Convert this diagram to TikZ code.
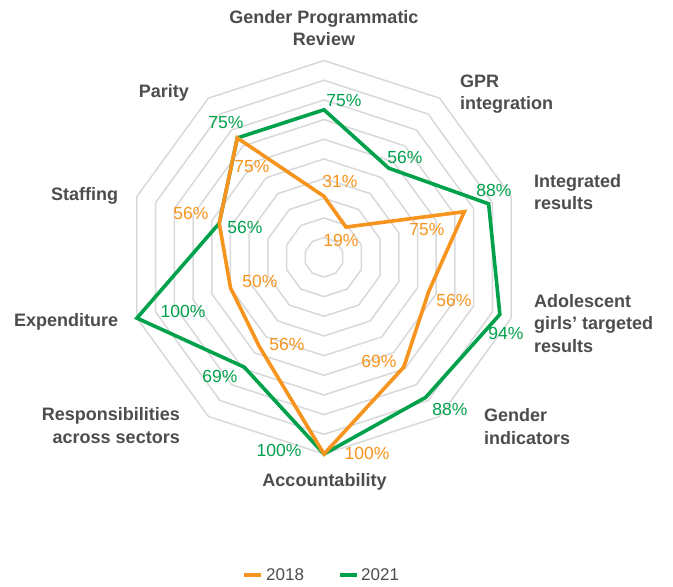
\documentclass[tikz,border=0pt]{standalone}
\usepackage{fontspec}
\setmainfont{Liberation Sans}
\definecolor{o18}{HTML}{F7941D}
\definecolor{g21}{HTML}{00A14B}
\definecolor{txtgray}{HTML}{4D4D4F}
\definecolor{gridc}{HTML}{D9D9D9}
\tikzset{
  gridline/.style={draw=gridc, line width=1.5pt},
  series18/.style={draw=o18, line width=3.6pt, line join=miter},
  series21/.style={draw=g21, line width=3.6pt, line join=miter},
  catlabel/.style={inner sep=0pt, text=txtgray, font=\bfseries\fontsize{18}{22.7}\selectfont},
  vallabel/.style={inner sep=0pt, font=\fontsize{17.5}{20}\selectfont},
  val18/.style={vallabel, text=o18},
  val21/.style={vallabel, text=g21},
  legtext/.style={inner sep=0pt, text=txtgray, font=\fontsize{17}{20}\selectfont},
}
\begin{document}
\begin{tikzpicture}[x=1pt,y=-1pt]
\useasboundingbox[fill=white] (0,0) rectangle (673,587);
\def\cx{324}\def\cy{257.3}\def\R{196.7}
% grid decagons
\foreach \i in {1,...,10}{
  \pgfmathsetmacro{\rr}{\R*\i/10}
  \draw[gridline] ({\cx+\rr*cos(90)},{\cy-\rr*sin(90)})
    \foreach \k in {1,...,9}{ -- ({\cx+\rr*cos(90-36*\k)},{\cy-\rr*sin(90-36*\k)}) } -- cycle;
}
% data points
\foreach \v [count=\k from 0] in {0.75,0.56,0.88,0.94,0.88,1.00,0.69,1.00,0.56,0.75}
  \coordinate (g\k) at ({\cx+\R*\v*cos(90-36*\k)},{\cy-\R*\v*sin(90-36*\k)});
\foreach \v [count=\k from 0] in {0.31,0.19,0.75,0.56,0.69,1.00,0.56,0.50,0.56,0.75}
  \coordinate (o\k) at ({\cx+\R*\v*cos(90-36*\k)},{\cy-\R*\v*sin(90-36*\k)});
\draw[series21] (g0) -- (g1) -- (g2) -- (g3) -- (g4) -- (g5) -- (g6) -- (g7) -- (g8) -- (g9) -- cycle;
\draw[series18] (o0) -- (o1) -- (o2) -- (o3) -- (o4) -- (o5) -- (o6) -- (o7) -- (o8) -- (o9) -- cycle;
% category labels
\node[catlabel, align=center] (c0) at (324,28) {Gender Programmatic\\Review};
\node[catlabel, align=left, anchor=west] (c1) at (460,94) {GPR\\integration};
\node[catlabel, align=left, anchor=west] (c2) at (534,192) {Integrated\\results};
\node[catlabel, align=left, anchor=west] (c3) at (534,323.5) {Adolescent\\girls’ targeted\\results};
\node[catlabel, align=left, anchor=west] (c4) at (484,426.3) {Gender\\indicators};
\node[catlabel, anchor=base] (c5) at (324.5,486) {Accountability};
\node[catlabel, align=right, anchor=east] (c6) at (180,425.5) {Responsibilities\\across sectors};
\node[catlabel, anchor=base east] (c7) at (118.3,326.7) {Expenditure};
\node[catlabel, anchor=base east] (c8) at (118.3,200.5) {Staffing};
\node[catlabel, anchor=base east] (c9) at (189,97.3) {Parity};
% value labels 2021
\node[val21] (lg0) at (344,101) {75\%};
\node[val21] (lg1) at (405,157) {56\%};
\node[val21] (lg2) at (494,190) {88\%};
\node[val21] (lg3) at (506,333) {94\%};
\node[val21] (lg4) at (450,409) {88\%};
\node[val21] (lg5) at (279,450) {100\%};
\node[val21] (lg6) at (220,376) {69\%};
\node[val21] (lg7) at (183,311) {100\%};
\node[val21] (lg8) at (245,227.5) {56\%};
\node[val21] (lg9) at (226,122.5) {75\%};
% value labels 2018
\node[val18] (lo0) at (340,181) {31\%};
\node[val18] (lo1) at (341,240) {19\%};
\node[val18] (lo2) at (427,230) {75\%};
\node[val18] (lo3) at (454,300) {56\%};
\node[val18] (lo4) at (379,361) {69\%};
\node[val18] (lo5) at (367,453) {100\%};
\node[val18] (lo6) at (287,344) {56\%};
\node[val18] (lo7) at (260,281) {50\%};
\node[val18] (lo8) at (191,213) {56\%};
\node[val18] (lo9) at (252,166.5) {75\%};
% legend
\coordinate (l18a) at (244,574.7);
\coordinate (l18b) at (261,574.7);
\coordinate (l21a) at (340,574.7);
\coordinate (l21b) at (357,574.7);
\draw[draw=o18, line width=3.8pt] (l18a) -- (l18b);
\draw[draw=g21, line width=3.8pt] (l21a) -- (l21b);
\node[legtext, anchor=west] (t18) at (266,574.2) {2018};
\node[legtext, anchor=west] (t21) at (361,574.2) {2021};
\end{tikzpicture}
\end{document}
